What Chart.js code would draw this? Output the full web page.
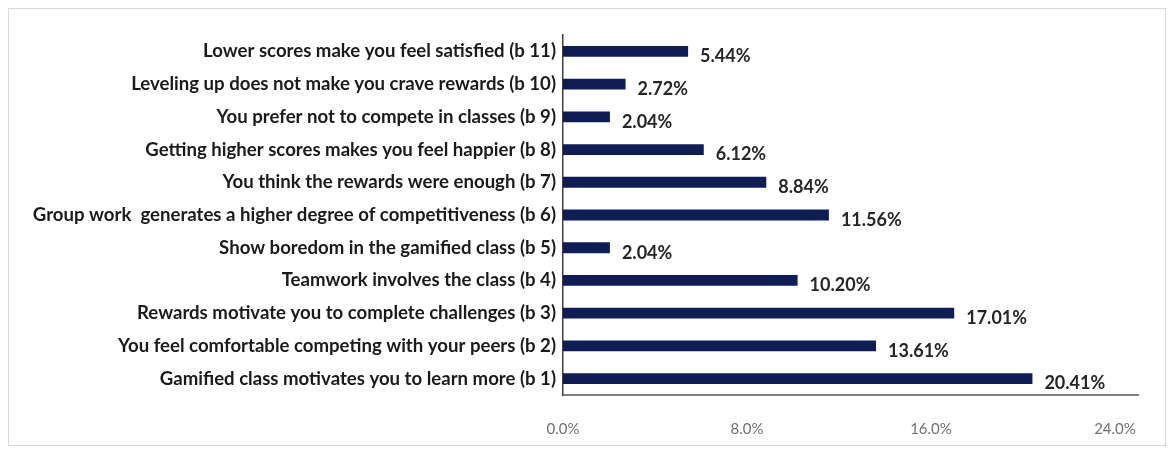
<!DOCTYPE html>
<html>
<head>
<meta charset="utf-8">
<script src="https://cdn.jsdelivr.net/npm/chart.js@4"></script>
<style>
  body { margin: 0; background: #fff; }
  #wrap { position: relative; width: 1174px; height: 454px; }
  #frame { position: absolute; left: 8px; top: 8px; width: 1158px; height: 438px; border: 1px solid #d9d9d9; box-sizing: border-box; pointer-events: none; }
</style>
</head>
<body>
<div id="wrap">
  <canvas id="chart" width="1174" height="454"></canvas>
  <div id="frame"></div>
</div>
<script>
// Datos (de arriba hacia abajo)

let categories = [
  "Lower scores make you feel satisfied (b 11)",
  "Leveling up does not make you crave rewards (b 10)",
  "You prefer not to compete in classes (b 9)",
  "Getting higher scores makes you feel happier (b 8)",
  "You think the rewards were enough (b 7)",
  "Group work  generates a higher degree of competitiveness (b 6)",
  "Show boredom in the gamified class (b 5)",
  "Teamwork involves the class (b 4)",
  "Rewards motivate you to complete challenges (b 3)",
  "You feel comfortable competing with your peers (b 2)",
  "Gamified class motivates you to learn more (b 1)",
];

let percentages = [5.44, 2.72, 2.04, 6.12, 8.84, 11.56, 2.04, 10.2, 17.01, 13.61, 20.41];

let xTicks = [0, 8, 16, 24];

let labelFont = "Lato";

// Etiquetas de valor al lado de cada barra

let valueLabels = {
  id: "valueLabels",
  afterDatasetsDraw(chart) {
    let ctx = chart.ctx;
    let meta = chart.getDatasetMeta(0);
    ctx.save();
    ctx.font = `bold 18px ${labelFont}`;
    ctx.fillStyle = "#262626";
    ctx.textAlign = "left";
    ctx.textBaseline = "middle";
    meta.data.forEach((bar, i) => {
      ctx.fillText(percentages[i].toFixed(2) + "%", bar.x + 12, bar.y + 5);
    });
    ctx.restore();
  },
};

let ctx = document.getElementById("chart").getContext("2d");

new Chart(ctx, {
  type: "bar",
  data: {
    labels: categories,
    datasets: [
      {
        data: percentages,
        backgroundColor: "#0f1d57",
        borderWidth: 0,
        barPercentage: 0.33,
        categoryPercentage: 1,
      },
    ],
  },
  options: {
    indexAxis: "y",
    responsive: false,
    animation: false,
    layout: {
      padding: { left: 0, right: 36, top: 35, bottom: 0 },
    },
    plugins: {
      legend: { display: false },
      tooltip: { enabled: false },
    },
    scales: {
      x: {
        min: 0,
        max: 25,
        grid: { display: false, drawTicks: false },
        border: { color: "#7f7f7f", width: 2 },
        afterBuildTicks: (scale) => {
          scale.ticks = xTicks.map((v) => ({ value: v }));
        },
        afterFit: (scale) => {
          scale.height = 59;
        },
        ticks: {
          padding: 25,
          color: "#707070",
          font: { family: labelFont, size: 15 },
          callback: (value) => value.toFixed(1) + "%",
        },
      },
      y: {
        grid: { display: false, drawTicks: false },
        border: { color: "#404040", width: 1.5 },
        afterFit: (scale) => {
          scale.width = 563;
        },
        ticks: {
          padding: 7,
          color: "#1a1a1a",
          font: { family: labelFont, size: 18.6, weight: "bold" },
        },
      },
    },
  },
  plugins: [valueLabels],
});
</script>
</body>
</html>
